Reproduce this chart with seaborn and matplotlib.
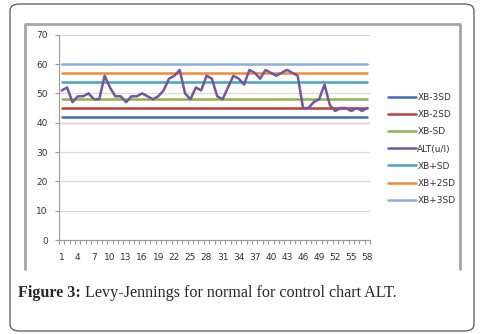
import matplotlib
matplotlib.use('Agg')
import matplotlib.pyplot as plt
from matplotlib.lines import Line2D
from matplotlib.patches import FancyBboxPatch
from matplotlib.ticker import FixedLocator
import numpy as np
import pandas as pd
import seaborn as sns

samples = list(range(1, 59))
alt = [51, 52, 47, 49, 49, 50, 48, 48, 56, 52,
       49, 49, 47, 49, 49, 50, 49, 48, 49, 51,
       55, 56, 58, 50, 48, 52, 51, 56, 55, 49,
       48, 52, 56, 55, 53, 58, 57, 55, 58, 57,
       56, 57, 58, 57, 56, 45, 45, 47, 48, 53,
       46, 44, 45, 45, 44, 45, 44, 45]
limits = {
    'XB-3SD': 42,
    'XB-2SD': 45,
    'XB-SD': 48,
    'XB+SD': 54,
    'XB+2SD': 57,
    'XB+3SD': 60,
}
series_order = ['XB-3SD', 'XB-2SD', 'XB-SD', 'ALT(u/l)', 'XB+SD', 'XB+2SD', 'XB+3SD']
colors = ['#3f6fb5', '#b8403d', '#8db34a', '#7356a0', '#45a5c2', '#f38a35', '#8fadd8']
tick_labels = [str(i) for i in range(1, 59, 3)]

rows = []
for name in series_order:
    vals = alt if name == 'ALT(u/l)' else [limits[name]] * len(samples)
    for s, v in zip(samples, vals):
        rows.append({'sample': s, 'value': v, 'series': name})
df = pd.DataFrame(rows)

sns.set_style('white')
plt.rcParams['font.family'] = ['DejaVu Sans']

fig = plt.figure(figsize=(4.8, 3.34), dpi=100)
ax = fig.add_axes([0.123, 0.2814, 0.648, 0.6147])

sns.lineplot(data=df, x='sample', y='value', hue='series', hue_order=series_order,
             palette=colors, linewidth=1.8, ax=ax, legend=True)
for line in ax.lines:
    if line.get_color() == colors[3]:
        line.set_zorder(5)

ax.set_xlim(0.5, 58.5)
ax.set_ylim(0, 70)
ax.set_yticks(range(0, 71, 10))
ax.set_xticks(range(1, 59, 3))
ax.set_xticklabels(tick_labels)
ax.xaxis.set_minor_locator(FixedLocator(np.arange(0.5, 59, 1)))
ax.tick_params(axis='x', which='major', length=0, pad=9, labelsize=6.5, colors='#333333')
ax.tick_params(axis='x', which='minor', length=3, width=0.8, color='#999999', direction='out', bottom=True)
ax.tick_params(axis='y', length=3, width=0.8, color='#999999', labelsize=6.5, labelcolor='#333333', pad=5, left=True)
ax.grid(axis='y', color='#d9d9d9', linewidth=0.9)
ax.set_axisbelow(True)
ax.axhline(40, color='#8c8c8c', linewidth=0.9, zorder=0.5)
for side in ['top', 'right']:
    ax.spines[side].set_visible(False)
ax.spines['left'].set_color('#999999')
ax.spines['bottom'].set_color('#999999')
ax.set_xlabel('')
ax.set_ylabel('')

leg = ax.legend(loc='upper left', bbox_to_anchor=(1.03, 0.755), frameon=False,
                fontsize=6.5, handlelength=3.2, handletextpad=0.1, labelspacing=0.9)
for t in leg.get_texts():
    t.set_color('#333333')

# chart frame (top, left, right)
frame_kw = dict(color='#a6a6a6', linewidth=2, transform=fig.transFigure)
x0, x1, yb, yt = 25 / 480, 460 / 480, 1 - 269 / 334, 1 - 24 / 334
fig.add_artist(Line2D([x0, x0, x1, x1], [yb, yt, yt, yb], **frame_kw))

# outer rounded box
fig.add_artist(FancyBboxPatch((10 / 480, 1 - 331 / 334), 464 / 480, 327 / 334,
                              boxstyle='round,pad=0,rounding_size=0.02',
                              transform=fig.transFigure, fill=False,
                              edgecolor='#555555', linewidth=0.9))

# caption: bold label, then plain text right after it
cap_y = 1 - 293 / 334
bold = fig.text(18 / 480, cap_y, 'Figure 3:', family='Liberation Serif', weight='bold',
                fontsize=11.6, va='center', ha='left')
bb = bold.get_window_extent(renderer=fig.canvas.get_renderer())
fig.text((bb.x1 + 4) / 480, cap_y, 'Levy-Jennings for normal for control chart ALT.',
         family='Liberation Serif', fontsize=11.6, va='center', ha='left')

fig.savefig('out.png', dpi=100)
